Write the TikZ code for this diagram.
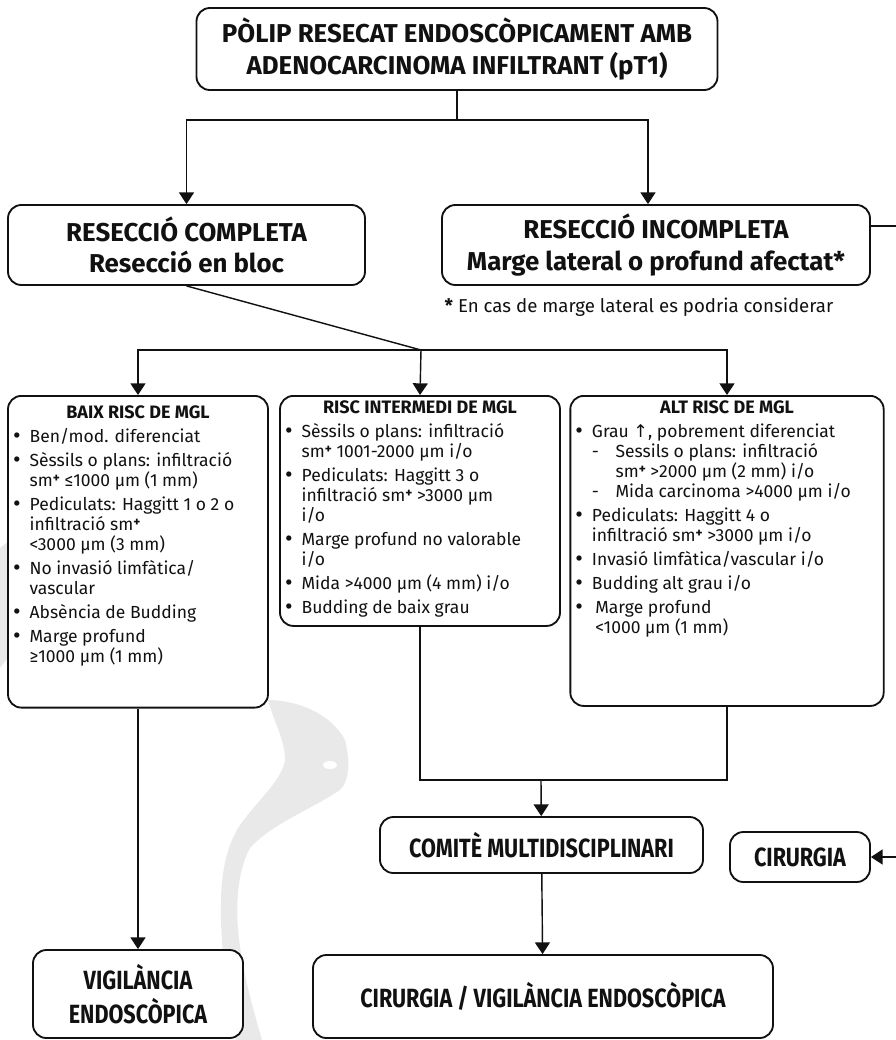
\documentclass[tikz,border=0pt]{standalone}
\usepackage{fontspec}
\setmainfont{Fira Sans}
\setsansfont{Fira Sans}
\newfontfamily\symfont{DejaVu Sans}
\newfontfamily\condfont[FakeStretch=0.82]{Fira Sans}
\usetikzlibrary{arrows.meta, positioning, calc}
\definecolor{mapgray}{HTML}{E9E9EA}
\definecolor{dark}{HTML}{111111}

% list helpers
\newcommand{\bigbullet}{{\fontsize{14}{11}\selectfont •}}
\newcommand{\bul}[1]{\par\vspace{2.4pt}\hangindent=0.95em\hangafter=1\noindent\makebox[0.95em][l]{\raisebox{-0.6pt}{\bigbullet}}#1}
\newcommand{\dsh}[1]{\par\hangindent=2.3em\hangafter=1\noindent\hspace*{0.95em}\makebox[1.35em][l]{-}#1}
\newcommand{\smp}{sm\raisebox{2.4pt}{\textbf{\fontsize{8}{8}\selectfont +}}}
\newcommand{\risktitle}[2]{\vspace*{#1}\centering\textbf{\fontsize{10.8}{13}\selectfont #2}\par\raggedright}

\tikzset{
    % rounded box
    box/.style={
        rectangle,
        rounded corners=8pt,
        draw=dark,
        fill=white,
        line width=1.1pt,
        align=center,
        inner sep=2pt,
        text=dark,
        font=\bfseries\fontsize{15.5}{19}\selectfont
    },
    % risk list box
    riskbox/.style={
        box,
        anchor=north,
        inner sep=3pt,
        font=\fontsize{10.5}{12}\selectfont
    },
    % condensed titles at the bottom
    endbox/.style={
        box,
        font=\condfont\bfseries\fontsize{15.8}{20}\selectfont
    },
    % arrows
    flow/.style={
        -{Triangle[length=7pt, width=9pt]},
        line width=0.85pt,
        draw=dark
    },
    link/.style={
        line width=0.85pt,
        draw=dark
    }
}

\begin{document}
\begin{tikzpicture}[x=0.6pt, y=-0.6pt]
    \useasboundingbox (0,0) rectangle (896,1040);

    % watermark map
    \fill[mapgray] (268,700) .. controls (295,700) and (330,712) .. (345,740)
        .. controls (350,760) and (350,780) .. (340,790)
        .. controls (310,810) and (270,825) .. (250,848)
        .. controls (238,870) and (236,900) .. (238,930)
        .. controls (242,970) and (252,1005) .. (262,1040)
        -- (236,1040) .. controls (228,1000) and (222,960) .. (221,920)
        .. controls (220,880) and (224,850) .. (240,825)
        .. controls (258,800) and (282,780) .. (285,760)
        .. controls (285,740) and (275,725) .. cycle;
    \fill[white] (330,765) ellipse (7 and 4);
    \fill[mapgray] (0,548) -- (10,540) -- (10,655) -- (0,668) -- cycle;

    % top
    \node[box, minimum width=312.6pt, minimum height=49.2pt] (polip) at (457,49)
        {PÒLIP RESECAT ENDOSCÒPICAMENT AMB\\ADENOCARCINOMA INFILTRANT (pT1)};

    % resection
    \node[box, minimum width=214.2pt, minimum height=48pt] (complete) at (186.5,245)
        {RESECCIÓ COMPLETA\\Resecció en bloc};
    \node[box, minimum width=256.8pt, minimum height=48pt] (incomplete) at (656,245)
        {RESECCIÓ INCOMPLETA\\Marge lateral o profund afectat*};
    \node[font=\fontsize{11.2}{13}\selectfont, text=dark] (note) at (639,307)
        {\textbf{*} En cas de marge lateral es podria considerar};

    % risk groups
    \node[riskbox] (low) at (138,395) {%
        \begin{minipage}[t][181pt][t]{150pt}
        \risktitle{3pt}{BAIX RISC DE MGL}
        \bul{Ben/mod. diferenciat}
        \bul{Sèssils o plans: infiltració\newline \smp{} ≤1000 µm (1 mm)}
        \bul{Pediculats: Haggitt 1 o 2 o\newline infiltració \smp\newline <3000 µm (3 mm)}
        \bul{No invasió limfàtica/\newline vascular}
        \bul{Absència de Budding}
        \bul{Marge profund\newline ≥1000 µm (1 mm)}
        \end{minipage}};
    \node[riskbox] (mid) at (420,395) {%
        \begin{minipage}[t][132pt][t]{162pt}
        \risktitle{0pt}{RISC INTERMEDI DE MGL}
        \bul{Sèssils o plans: infiltració\newline \smp{} 1001-2000 µm i/o}
        \bul{Pediculats: Haggitt 3 o\newline infiltració \smp{} >3000 µm\newline i/o}
        \bul{Marge profund no valorable\newline i/o}
        \bul{Mida >4000 µm (4 mm) i/o}
        \bul{Budding de baix grau}
        \end{minipage}};
    \node[riskbox] (high) at (727,395) {%
        \begin{minipage}[t][180pt][t]{182pt}
        \risktitle{0pt}{ALT RISC DE MGL}
        \bul{Grau {\symfont ↑}, pobrement diferenciat}
        \dsh{Sessils o plans: infiltració\newline \smp{} >2000 µm (2 mm) i/o}
        \dsh{Mida carcinoma >4000 µm i/o}
        \bul{Pediculats: Haggitt 4 o\newline infiltració \smp{} >3000 µm i/o}
        \bul{Invasió limfàtica/vascular i/o}
        \bul{Budding alt grau i/o}
        \bul{\hspace{2pt}Marge profund\newline \hspace*{2pt}<1000 µm (1 mm)}
        \end{minipage}};

    % outcomes
    \node[endbox, minimum width=193.8pt, minimum height=33.6pt] (committee) at (541.5,845)
        {COMITÈ MULTIDISCIPLINARI};
    \node[endbox, minimum width=84pt, minimum height=30pt] (surgery) at (800,857)
        {CIRURGIA};
    \node[endbox, minimum width=276pt, minimum height=49.8pt] (surgwatch) at (543,996.5)
        {CIRURGIA / VIGILÀNCIA ENDOSCÒPICA};
    \node[endbox, minimum width=126pt, minimum height=52.8pt] (watch) at (138,994)
        {VIGILÀNCIA\\ENDOSCÒPICA};

    % junctions
    \coordinate (split) at (457,120);
    \coordinate (fork) at (421,350);
    \coordinate (merge) at (541,780);
    \coordinate (edge) at (912,226);

    % connectors
    \draw[link] (polip) -- (split);
    \draw[flow] (split) -| (complete.north);
    \draw[flow] (split) -| ([xshift=-4.8pt]incomplete.north);
    \draw[link] (complete.south) -- (fork);
    \draw[flow] (fork) -| (low.north);
    \draw[flow] (fork) -- (mid.north);
    \draw[flow] (fork) -| (high.north);
    \draw[link] (mid.south) |- (merge);
    \draw[link] (high.south) |- (merge);
    \draw[flow] (merge) -- (committee);
    \draw[flow] (committee) -- (surgwatch);
    \draw[flow] (low) -- (watch);
    \draw[flow] (incomplete.east |- edge) -- (edge) |- (surgery);
\end{tikzpicture}
\end{document}
